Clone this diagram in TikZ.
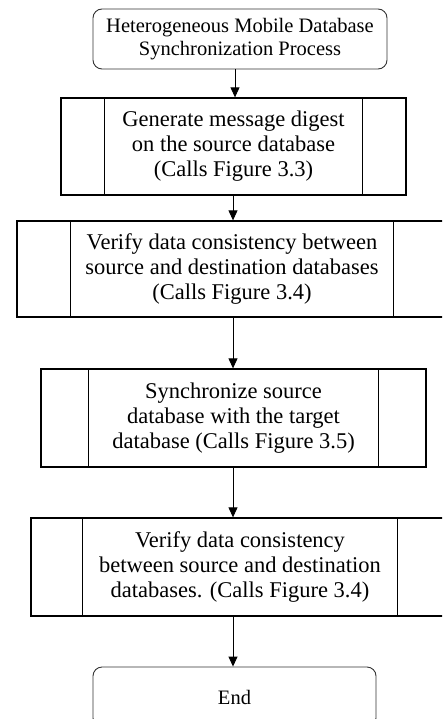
\documentclass[tikz,border=0pt]{standalone}
\usepackage{fontspec}
\setmainfont{Liberation Serif}
\usetikzlibrary{arrows.meta}
\begin{document}
\begin{tikzpicture}[x=1pt,y=-1pt,
  procbox/.style={draw=black,line width=1.3pt,rectangle,inner sep=0pt,align=center,
    font=\fontsize{22.5}{25}\selectfont},
  termbox/.style={draw=black!80,line width=0.9pt,rounded corners=9pt,inner sep=0pt,align=center},
  arr/.style={line width=0.9pt,-{Triangle[width=9pt,length=10pt]}},
  innerline/.style={line width=1.3pt}]
\useasboundingbox (0,0) rectangle (442,719);
\clip (0,0) rectangle (442,719);
\node[termbox,minimum width=294pt,minimum height=60pt,font=\fontsize{20.5}{23}\selectfont]
  (start) at (240,39) {Heterogeneous Mobile Database\\Synchronization Process};
\node[procbox,minimum width=345pt,minimum height=97pt] (b2) at (233.5,146.5)
  {Generate message digest\\on the source database\\(Calls Figure 3.3)};
\node[procbox,minimum width=430pt,minimum height=96pt] (b3) at (232,269)
  {Verify data consistency between\\source and destination databases\\(Calls Figure 3.4)};
\node[procbox,minimum width=385pt,minimum height=98pt] (b4) at (233.5,418)
  {Synchronize source\\database with the target\\database (Calls Figure 3.5)};
\node[procbox,minimum width=418pt,minimum height=98pt] (b5) at (240,567)
  {Verify data consistency\\between source and destination\\databases. (Calls Figure 3.4)};
\node[termbox,minimum width=283pt,minimum height=60pt,font=\fontsize{20.5}{23}\selectfont]
  (end) at (234.5,697) {End};
% inner vertical lines of predefined-process boxes
\draw[innerline] ([xshift=44pt]b2.north west) -- ([xshift=44pt]b2.south west);
\draw[innerline] ([xshift=-44pt]b2.north east) -- ([xshift=-44pt]b2.south east);
\draw[innerline] ([xshift=54pt]b3.north west) -- ([xshift=54pt]b3.south west);
\draw[innerline] ([xshift=-54pt]b3.north east) -- ([xshift=-54pt]b3.south east);
\draw[innerline] ([xshift=48pt]b4.north west) -- ([xshift=48pt]b4.south west);
\draw[innerline] ([xshift=-48pt]b4.north east) -- ([xshift=-48pt]b4.south east);
\draw[innerline] ([xshift=52pt]b5.north west) -- ([xshift=52pt]b5.south west);
\draw[innerline] ([xshift=-52pt]b5.north east) -- ([xshift=-52pt]b5.south east);
% connectors
\coordinate (axA) at (235,0);
\coordinate (axB) at (233,0);
\draw[arr] (start.south -| axA) -- (b2.north -| axA);
\draw[arr] (b2.south -| axB) -- (b3.north -| axB);
\draw[arr] (b3.south -| axB) -- (b4.north -| axB);
\draw[arr] (b4.south -| axB) -- (b5.north -| axB);
\draw[arr] (b5.south -| axB) -- (end.north -| axB);
\end{tikzpicture}
\end{document}
